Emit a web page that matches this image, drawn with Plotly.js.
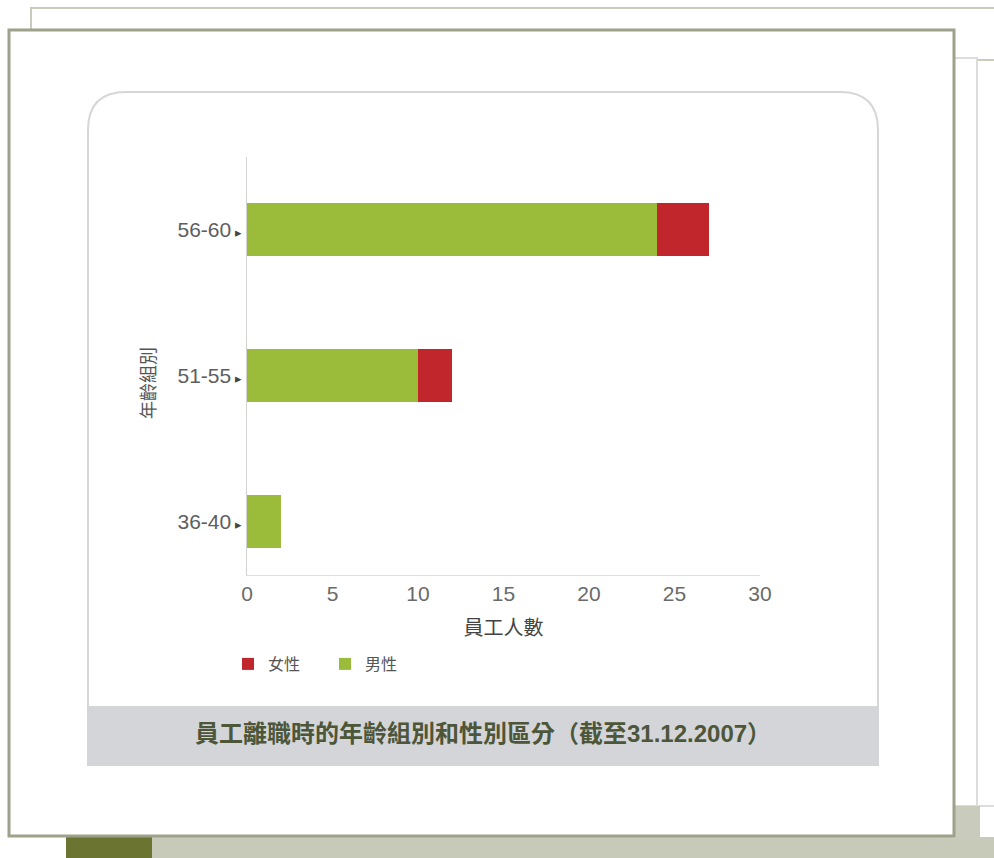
<!DOCTYPE html>
<html>
<head>
<meta charset="utf-8">
<script src="https://cdn.plot.ly/plotly-3.0.1.min.js"></script>
<style>
html,body{margin:0;padding:0;background:#fff;}
#chart{width:994px;height:858px;}
</style>
</head>
<body>
<div id="chart"></div>
<script>
// ---- data ----
const ageGroups = ["36-40", "51-55", "56-60"];
const maleCounts = [2, 10, 24];
const femaleCounts = [0, 2, 3];
const seriesNames = ["男性", "女性"];
const xTickValues = [0, 5, 10, 15, 20, 25, 30];
const chartTitle = "員工離職時的年齡組別和性別區分（截至31.12.2007）";
const xTitle = "員工人數";
const yTitle = "年齡組別";

// ---- layout helpers (pixel -> paper) ----
const W = 994, H = 858;
const L = 247, R = 760, T = 157, B = 575;
const X = px => (px - L) / (R - L);
const Y = py => (B - py) / (B - T);

const FONT = "Liberation Sans, Arial, Noto Sans CJK TC, sans-serif";
const green = "#9bbb3a";
const red = "#c1262c";

const traces = [
  {
    type: "bar", orientation: "h", name: seriesNames[0],
    y: ageGroups, x: maleCounts,
    marker: {color: green}, width: 0.363, hoverinfo: "x+y+name"
  },
  {
    type: "bar", orientation: "h", name: seriesNames[1],
    y: ageGroups, x: femaleCounts,
    marker: {color: red}, width: 0.363, hoverinfo: "x+y+name"
  }
];

const r = 38;
const panelPath = `M ${X(88)},${Y(707)} L ${X(88)},${Y(92 + r)} Q ${X(88)},${Y(92)} ${X(88 + r)},${Y(92)} ` +
  `L ${X(878 - r)},${Y(92)} Q ${X(878)},${Y(92)} ${X(878)},${Y(92 + r)} L ${X(878)},${Y(707)} Z`;

const shapes = [
  // back frame (top-left)
  {type: "rect", xref: "paper", yref: "paper", x0: X(31), x1: X(1010), y0: Y(8), y1: Y(60),
   line: {color: "#c9cbbd", width: 2}, fillcolor: "#ffffff", layer: "below"},
  // right back frame
  {type: "rect", xref: "paper", yref: "paper", x0: X(940), x1: X(977), y0: Y(58), y1: Y(806),
   line: {color: "#dcdcdc", width: 2}, fillcolor: "#ffffff", layer: "below"},
  {type: "line", xref: "paper", yref: "paper", x0: X(977), x1: X(1000), y0: Y(806), y1: Y(806),
   line: {color: "#dcdcdc", width: 2}, layer: "below"},
  // bottom strips
  {type: "rect", xref: "paper", yref: "paper", x0: X(150), x1: X(1000), y0: Y(837), y1: Y(860),
   line: {width: 0}, fillcolor: "#c7cab9", layer: "below"},
  {type: "rect", xref: "paper", yref: "paper", x0: X(940), x1: X(980), y0: Y(806), y1: Y(840),
   line: {width: 0}, fillcolor: "#c9ccbc", layer: "below"},
  {type: "rect", xref: "paper", yref: "paper", x0: X(66), x1: X(152), y0: Y(837), y1: Y(860),
   line: {width: 0}, fillcolor: "#6b7531", layer: "below"},
  // main frame
  {type: "rect", xref: "paper", yref: "paper", x0: X(9), x1: X(954), y0: Y(30), y1: Y(836),
   line: {color: "#9fa28b", width: 3}, fillcolor: "#ffffff", layer: "below"},
  // rounded panel
  {type: "path", xref: "paper", yref: "paper", path: panelPath,
   line: {color: "#d6d6d6", width: 2}, fillcolor: "#ffffff", layer: "below"},
  // title band
  {type: "rect", xref: "paper", yref: "paper", x0: X(87), x1: X(879), y0: Y(707), y1: Y(766),
   line: {width: 0}, fillcolor: "#d3d5d9", layer: "below"}
];

const annotations = [
  {xref: "paper", yref: "paper", x: X(483), y: Y(733), text: "<b>" + chartTitle + "</b>",
   showarrow: false, xanchor: "center", yanchor: "middle",
   font: {family: FONT, size: 24, color: "#4d5638"}},
  {xref: "paper", yref: "paper", x: X(149), y: Y(383), text: yTitle, textangle: -90,
   showarrow: false, xanchor: "center", yanchor: "middle",
   font: {family: FONT, size: 18, color: "#555"}}
];

const layout = {
  width: W, height: H,
  margin: {l: L, r: W - R, t: T, b: H - B, pad: 0},
  paper_bgcolor: "#ffffff",
  plot_bgcolor: "rgba(0,0,0,0)",
  barmode: "stack",
  showlegend: true,
  legend: {
    orientation: "h", traceorder: "reversed",
    x: X(228), xanchor: "left", y: Y(647), yanchor: "top",
    font: {family: FONT, size: 16, color: "#555"},
    bgcolor: "rgba(0,0,0,0)",
    entrywidth: 52, entrywidthmode: "pixels", itemwidth: 30
  },
  xaxis: {
    range: [0, 30], tickvals: xTickValues, ticks: "",
    showgrid: false, zeroline: false,
    showline: true, linecolor: "#dedede", linewidth: 1,
    tickfont: {family: FONT, size: 21, color: "#6a6a6a"},
    title: {text: xTitle, standoff: 16, font: {family: FONT, size: 20, color: "#444"}},
    fixedrange: true
  },
  yaxis: {
    type: "category", range: [-0.366, 2.497],
    tickvals: ageGroups,
    ticktext: ageGroups.map(g => g + '<span style="font-size:13px;color:#444"> ▸</span>'),
    ticks: "", showgrid: false, zeroline: false,
    showline: true, linecolor: "#d2d2d2", linewidth: 1,
    tickfont: {family: FONT, size: 21, color: "#5e5e5e"},
    ticklabelstandoff: 0,
    fixedrange: true
  },
  shapes: shapes,
  annotations: annotations
};

Plotly.newPlot("chart", traces, layout, {displayModeBar: false, staticPlot: true});
</script>
</body>
</html>
